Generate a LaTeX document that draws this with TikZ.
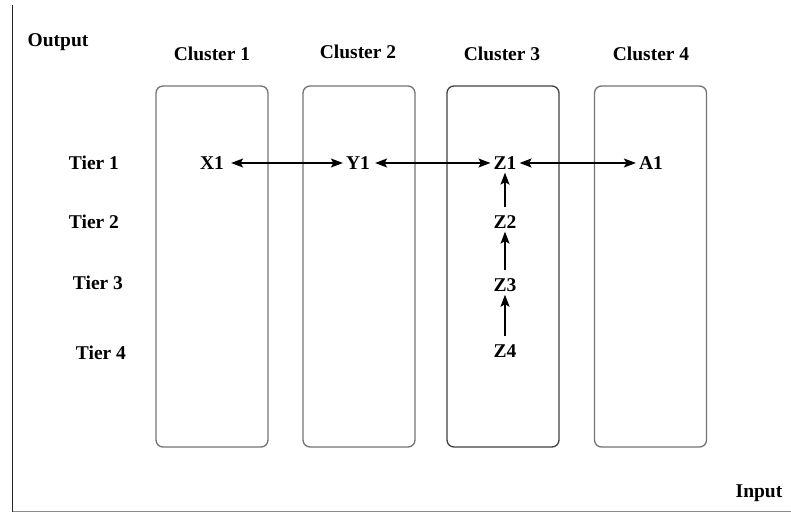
\documentclass[tikz,border=0pt]{standalone}
\usepackage{fontspec}
\setmainfont{Liberation Serif}
\usetikzlibrary{arrows.meta}
\tikzset{tip/.tip={Stealth[length=12pt,width=9pt,inset=2.5pt]}}
\begin{document}
\begin{tikzpicture}[x=1pt,y=-1pt,
  lbl/.style={font=\fontsize{19.5}{22}\selectfont\bfseries, inner sep=0pt},
  item/.style={font=\fontsize{19.5}{22}\selectfont\bfseries, inner sep=3pt},
  cluster/.style={draw=black!55, line width=1.3pt, rounded corners=7pt,
    minimum width=112pt, minimum height=361pt, inner sep=0pt},
  link/.style={line width=1.3pt, tip-tip},
  up/.style={line width=1.3pt, -tip, shorten <=5pt}]
\useasboundingbox (0,0) rectangle (791,513);

% axes
\coordinate (top) at (12.5,5);
\coordinate (corner) at (12.5,511.5);
\coordinate (right) at (791,511.5);
\draw[black!45, line width=1.3pt] (corner) -- (right);
\draw[black!85, line width=1.3pt] (top) -- (corner);

% cluster boxes
\node[cluster] (c1) at (212,266.5) {};
\node[cluster] (c2) at (359,266.5) {};
\node[cluster, draw=black!75] (c3) at (503,266.5) {};
\node[cluster] (c4) at (650.5,266.5) {};

% headings
\node[lbl] (out) at (58,42) {Output};
\node[lbl] (in) at (759,493) {Input};
\node[lbl] (h1) at (212,54) {Cluster 1};
\node[lbl] (h2) at (358,52) {Cluster 2};
\node[lbl] (h3) at (502,54) {Cluster 3};
\node[lbl] (h4) at (651,54) {Cluster 4};
\node[lbl] (t1) at (94,163) {Tier 1};
\node[lbl] (t2) at (94,222) {Tier 2};
\node[lbl] (t3) at (98,283) {Tier 3};
\node[lbl] (t4) at (101,353) {Tier 4};

% tier items
\node[item] (x1) at (212,163) {X1};
\node[item] (y1) at (358,163) {Y1};
\node[item] (z1) at (505,163) {Z1};
\node[item] (a1) at (651,163) {A1};
\node[item] (z2) at (505,222) {Z2};
\node[item] (z3) at (505,285) {Z3};
\node[item] (z4) at (505,351) {Z4};

% connectors
\draw[link, shorten <=4pt] (x1) -- (y1);
\draw[link, shorten <=2pt] (y1) -- (z1);
\draw[link] (z1) -- (a1);
\draw[up] (z2) -- (z1);
\draw[up] (z3) -- (z2);
\draw[up] (z4) -- (z3);
\end{tikzpicture}
\end{document}
